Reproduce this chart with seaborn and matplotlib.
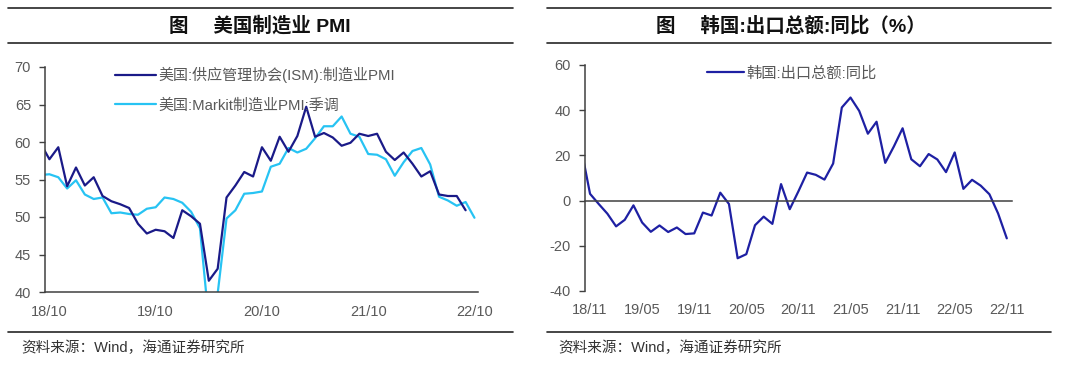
import numpy as np
import pandas as pd
import matplotlib
matplotlib.use("Agg")
import matplotlib.pyplot as plt
from matplotlib.lines import Line2D
import seaborn as sns

# ---------------- data ----------------
# US PMI, monthly from 2018-09 (ISM to 2022-09, Markit to 2022-10)
ism_pmi = [59.8, 57.7, 59.3, 54.1, 56.6, 54.2, 55.3, 52.8, 52.1, 51.7, 51.2, 49.1,
           47.8, 48.3, 48.1, 47.2, 50.9, 50.1, 49.1, 41.5, 43.1, 52.6, 54.2, 56.0,
           55.4, 59.3, 57.5, 60.7, 58.7, 60.8, 64.7, 60.7, 61.2, 60.6, 59.5, 59.9,
           61.1, 60.8, 61.1, 58.7, 57.6, 58.6, 57.1, 55.4, 56.1, 53.0, 52.8, 52.8,
           50.9]
markit_pmi = [55.6, 55.7, 55.3, 53.8, 54.9, 53.0, 52.4, 52.6, 50.5, 50.6, 50.4, 50.3,
              51.1, 51.3, 52.6, 52.4, 51.9, 50.7, 48.5, 36.1, 39.8, 49.8, 50.9, 53.1,
              53.2, 53.4, 56.7, 57.1, 59.2, 58.6, 59.1, 60.5, 62.1, 62.1, 63.4, 61.1,
              60.7, 58.4, 58.3, 57.7, 55.5, 57.3, 58.8, 59.2, 57.0, 52.7, 52.2, 51.5,
              52.0, 49.9]
pmi_start_offset = -1          # first value is 2018-09, one month before 18/10
pmi_tick_labels = ["18/10", "19/10", "20/10", "21/10", "22/10"]

# Korea exports YoY (%), monthly from 2018-10 to 2022-11
korea_exports_yoy = [22.7, 3.0, -1.5, -5.8, -11.4, -8.5, -2.1, -9.7, -13.8, -11.0,
                     -13.9, -11.9, -14.8, -14.5, -5.3, -6.6, 3.5, -1.5, -25.5, -23.7,
                     -10.9, -7.1, -10.3, 7.3, -3.8, 4.1, 12.4, 11.4, 9.3, 16.4,
                     41.2, 45.6, 39.7, 29.6, 34.9, 16.7, 24.0, 32.0, 18.3, 15.2,
                     20.6, 18.2, 12.6, 21.3, 5.2, 9.2, 6.6, 2.8, -5.7, -16.7]
korea_start_offset = -1        # first value is 2018-10, one month before 18/11
korea_tick_labels = ["18/11", "19/05", "19/11", "20/05", "20/11",
                     "21/05", "21/11", "22/05", "22/11"]

label_ism = "美国:供应管理协会(ISM):制造业PMI"
label_markit = "美国:Markit制造业PMI:季调"
label_korea = "韩国:出口总额:同比"
title_left = "图\u3000 美国制造业 PMI"
title_right = "图\u3000 韩国:出口总额:同比（%）"
source_text = "资料来源：Wind，海通证券研究所"

# ---------------- style ----------------
sns.set_theme(style="white")
FAM = ["Liberation Sans", "Noto Sans CJK SC", "DejaVu Sans"]
plt.rcParams["font.family"] = FAM
plt.rcParams["axes.unicode_minus"] = False

C_ISM = "#1a1a88"
C_MARKIT = "#27c3f3"
C_KOREA = "#1e20a3"
AX_COLOR = "#404040"
TXT_GRAY = "#595959"

W, H = 1080, 372
fig = plt.figure(figsize=(W / 100, H / 100), dpi=100)


def fx(px):
    return px / W


def fy(py):
    return 1 - py / H


# ---------------- left panel ----------------
ax1 = fig.add_axes([fx(45), fy(292), fx(478 - 45), (292 - 67) / H])
df_ism = pd.DataFrame({"m": np.arange(len(ism_pmi)) + pmi_start_offset, "v": ism_pmi})
df_mk = pd.DataFrame({"m": np.arange(len(markit_pmi)) + pmi_start_offset, "v": markit_pmi})
sns.lineplot(data=df_mk, x="m", y="v", ax=ax1, color=C_MARKIT, lw=1.6,
             label=label_markit, sort=False, estimator=None)
sns.lineplot(data=df_ism, x="m", y="v", ax=ax1, color=C_ISM, lw=1.6,
             label=label_ism, sort=False, estimator=None)
for ln in ax1.lines:
    ln.set_solid_joinstyle("round")
ax1.set_xlim(-0.5, 48.4)
ax1.set_ylim(40, 70)
ax1.set_yticks(np.arange(40, 71, 5))
lab_pos1 = np.arange(len(pmi_tick_labels)) * 12
ax1.set_xticks(lab_pos1, pmi_tick_labels)
ax1.set_xticks(lab_pos1 - 0.5, minor=True)
ax1.tick_params(axis="x", which="major", length=0, pad=9, labelsize=10.5, labelcolor=TXT_GRAY)
ax1.tick_params(axis="x", which="minor", direction="inout", length=6, width=1, color=AX_COLOR)
ax1.tick_params(axis="y", direction="out", length=4, width=1, color=AX_COLOR,
                pad=6, labelsize=10.5, labelcolor=TXT_GRAY, left=True)
ax1.set_xlabel("")
ax1.set_ylabel("")
for s in ["top", "right"]:
    ax1.spines[s].set_visible(False)
for s in ["left", "bottom"]:
    ax1.spines[s].set_color(AX_COLOR)
    ax1.spines[s].set_linewidth(1.1)
h, l = ax1.get_legend_handles_labels()
leg1 = ax1.legend(h[::-1], l[::-1], loc="upper left",
                  bbox_to_anchor=((115 - 45) / 433, (292 - 67) / 225),
                  frameon=False, fontsize=10.8, handlelength=2.7, handletextpad=0.2,
                  labelspacing=1.0, borderpad=0, borderaxespad=0)
for t in leg1.get_texts():
    t.set_color(TXT_GRAY)

# ---------------- right panel ----------------
ax2 = fig.add_axes([fx(585), fy(291), fx(1012 - 585), (291 - 65) / H])
df_k = pd.DataFrame({"m": np.arange(len(korea_exports_yoy)) + korea_start_offset,
                     "v": korea_exports_yoy})
sns.lineplot(data=df_k, x="m", y="v", ax=ax2, color=C_KOREA, lw=1.6,
             label=label_korea, sort=False, estimator=None)
for ln in ax2.lines:
    ln.set_solid_joinstyle("round")
ax2.set_xlim(-0.58, 48.6)
ax2.set_ylim(-40, 60)
ax2.set_yticks(np.arange(-40, 61, 20))
ax2.set_xlabel("")
ax2.set_ylabel("")
lab_pos2 = np.arange(len(korea_tick_labels)) * 6
ax2.spines["bottom"].set_position(("data", 0))
ax2.set_xticks(lab_pos2 - 0.5, [""] * len(lab_pos2))
ax2.tick_params(axis="x", direction="out", length=4, width=1, color=AX_COLOR)
ax2.tick_params(axis="y", direction="out", length=4, width=1, color=AX_COLOR,
                pad=6, labelsize=10.5, labelcolor=TXT_GRAY, left=True)
for s in ["top", "right"]:
    ax2.spines[s].set_visible(False)
for s in ["left", "bottom"]:
    ax2.spines[s].set_color(AX_COLOR)
    ax2.spines[s].set_linewidth(1.1)
sec = ax2.secondary_xaxis(0.0)
sec.set_xticks(lab_pos2, korea_tick_labels)
sec.tick_params(length=0, pad=9, labelsize=10.5, labelcolor=TXT_GRAY)
sec.spines["bottom"].set_visible(False)
leg2 = ax2.legend(loc="upper left",
                  bbox_to_anchor=((707 - 585) / 427, (291 - 66) / 226),
                  frameon=False, fontsize=11, handlelength=2.4, handletextpad=0.2,
                  borderpad=0, borderaxespad=0)
for t in leg2.get_texts():
    t.set_color(TXT_GRAY)

# ---------------- titles, rules, sources ----------------
for (x0, x1) in [(8, 513), (547, 1051)]:
    for y in [8, 43, 332]:
        fig.add_artist(Line2D([fx(x0), fx(x1)], [fy(y), fy(y)],
                              transform=fig.transFigure, color="#262626", lw=1.2))

fig.text(fx(260), fy(25.5), title_left, ha="center", va="center",
         fontsize=14, fontweight="bold", color="#111111", family=FAM)
fig.text(fx(791), fy(25.5), title_right, ha="center", va="center",
         fontsize=14, fontweight="bold", color="#111111", family=FAM)
fig.text(fx(21), fy(348), source_text, ha="left", va="center",
         fontsize=10.5, color="#333333", family=FAM)
fig.text(fx(558), fy(348), source_text, ha="left", va="center",
         fontsize=10.5, color="#333333", family=FAM)

fig.savefig("out.png", dpi=100, facecolor="white")
